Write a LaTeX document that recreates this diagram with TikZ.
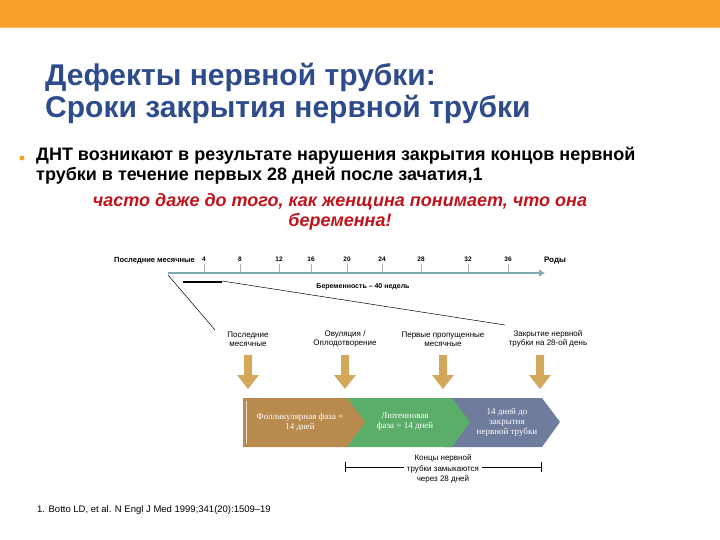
\documentclass[tikz,border=0pt]{standalone}
\usepackage{fontspec}
\setmainfont{Liberation Sans}
\newfontfamily\serifc{Liberation Serif}
\usetikzlibrary{arrows.meta}
\definecolor{orbar}{HTML}{F7A12C}
\definecolor{ttl}{HTML}{2E4C8C}
\definecolor{redt}{HTML}{C0141C}
\definecolor{axis}{HTML}{7FA9B0}
\definecolor{gold}{HTML}{D4A85A}
\definecolor{seg1}{HTML}{B98A4E}
\definecolor{seg2}{HTML}{5BAE6A}
\definecolor{seg3}{HTML}{6F7C9E}
\tikzset{tick/.style={font=\fontsize{6.5}{7}\selectfont\bfseries,inner sep=0pt},
 lab/.style={font=\fontsize{8}{9}\selectfont,align=center,inner sep=0pt},
 segtxt/.style={font=\serifc\fontsize{9}{10}\selectfont,text=white,align=center}}
\begin{document}
\begin{tikzpicture}[x=1pt,y=-1pt]
\useasboundingbox (0,0) rectangle (720,540);
\fill[orbar] (0,0) rectangle (720,27);
\draw[orbar!70,line width=1pt] (0,28) -- (720,28);
\node[anchor=west,text=ttl,font=\fontsize{30}{32}\selectfont\bfseries,align=left,inner sep=0pt] (title) at (45,93) {Дефекты нервной трубки:\\Сроки закрытия нервной трубки};
\fill[orbar] (22,158) circle (2.5);
\node[anchor=north west,font=\fontsize{18}{20}\selectfont\bfseries,align=left,inner sep=0pt] (bul) at (36,147) {ДНТ возникают в результате нарушения закрытия концов нервной\\трубки в течение первых 28 дней после зачатия,1};
\node[font=\fontsize{18}{20}\selectfont\bfseries\itshape,text=redt,align=center,inner sep=0pt] (red) at (340,212) {часто даже до того, как женщина понимает, что она\\беременна!};
% timeline
\coordinate (t0) at (168,273);
\coordinate (t1) at (545,273);
\draw[axis,line width=2.5pt,-{Latex[length=6pt,width=8pt]}] (t0) -- (t1);
\node[tick,anchor=east,font=\fontsize{7.5}{8}\selectfont\bfseries] (lm) at (195,261) {Последние месячные};
\node[tick,font=\fontsize{8}{8}\selectfont\bfseries] (rody) at (555,261) {Роды};
\foreach \x/\l in {204/4,240/8,279/12,311/16,347/20,382/24,421/28,468/32,508/36}{
 \node[tick] at (\x,259) {\l};
 \draw[gray!60,line width=0.4pt] (\x,264) -- (\x,272);}
\draw[line width=2.5pt] (183,282) -- (222,282);
\node[tick,font=\fontsize{7}{8}\selectfont\bfseries] (preg) at (363,287) {Беременность – 40 недель};
\coordinate (a0) at (168,275); \coordinate (a1) at (215,330);
\coordinate (b0) at (222,281); \coordinate (b1) at (505,325);
\draw[line width=0.5pt] (a0) -- (a1);
\draw[line width=0.5pt] (b0) -- (b1);
\node[lab] (l1) at (248,339) {Последние\\месячные};
\node[lab] (l2) at (345,339) {Овуляция /\\Оплодотворение};
\node[lab] (l3) at (443,339) {Первые пропущенные\\месячные};
\node[lab] (l4) at (548,339) {Закрытие нервной\\трубки на 28-ой день};
\foreach \x in {248,345,443,540}{
 \fill[gold] (\x-4,355) -- (\x+4,355) -- (\x+4,375) -- (\x+11,375) -- (\x,389) -- (\x-11,375) -- (\x-4,375) -- cycle;}
% chevrons
\fill[seg3] (445,398) -- (542,398) -- (560,422) -- (542,447) -- (445,447) -- (463,422) -- cycle;
\fill[seg2] (345,398) -- (452,398) -- (470,422) -- (452,447) -- (345,447) -- (363,422) -- cycle;
\fill[seg1] (243,398) -- (347,398) -- (365,422) -- (347,447) -- (243,447) -- cycle;
\draw[white!70!seg1,line width=0.8pt] (246,401) -- (246,444);
\node[segtxt] (s1) at (300,422) {Фолликулярная фаза =\\14 дней};
\node[segtxt] (s2) at (405,422) {Лютеиновая\\фаза = 14 дней};
\node[segtxt] (s3) at (507,422) {14 дней до\\закрытия\\нервной трубки};
% bracket
\coordinate (c0) at (345,467); \coordinate (c1) at (541,467);
\draw[line width=0.9pt] (c0) -- (c1);
\draw[line width=0.9pt] (345,462) -- (345,472) (541,462) -- (541,472);
\node[lab,font=\fontsize{8}{10.5}\selectfont,fill=white,inner xsep=3pt] (br) at (443,469) {Концы нервной\\трубки замыкаются\\через 28 дней};
\node[anchor=west,font=\fontsize{9.5}{10}\selectfont,inner sep=0pt] (fn) at (37,510) {1. Botto LD, et al. N Engl J Med 1999;341(20):1509–19};
\end{tikzpicture}
\end{document}
